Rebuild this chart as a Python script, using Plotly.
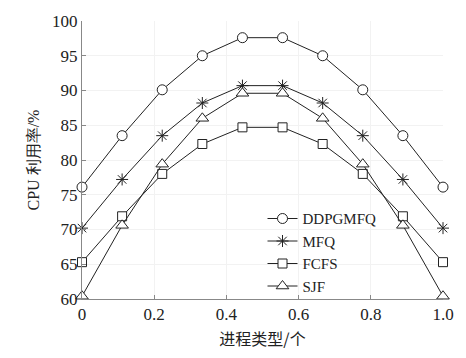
import plotly.graph_objects as go

x_vals = [0, 1/9, 2/9, 3/9, 4/9, 5/9, 6/9, 7/9, 8/9, 1.0]
ddpgmfq = [76.1, 83.5, 90.1, 95.0, 97.6, 97.6, 95.0, 90.1, 83.5, 76.1]
mfq = [70.2, 77.2, 83.5, 88.2, 90.7, 90.7, 88.2, 83.5, 77.2, 70.2]
fcfs = [65.3, 71.9, 78.0, 82.3, 84.7, 84.7, 82.3, 78.0, 71.9, 65.3]
sjf = [60.4, 70.6, 79.4, 86.0, 89.6, 89.6, 86.0, 79.4, 70.6, 60.4]
series_names = ["DDPGMFQ", "MFQ", "FCFS", "SJF"]
x_tickvals = [0, 0.2, 0.4, 0.6, 0.8, 1.0]
x_ticktext = ["0", "0.2", "0.4", "0.6", "0.8", "1.0"]
y_tickvals = [60, 65, 70, 75, 80, 85, 90, 95, 100]

symbols = ["circle", "asterisk-open", "square", "triangle-up"]
sizes = [10, 10, 9, 11]
fills = ["white", "#222222", "white", "white"]
series = [ddpgmfq, mfq, fcfs, sjf]

fig = go.Figure()
for name, ys, sym, sz, fc in zip(series_names, series, symbols, sizes, fills):
    fig.add_trace(go.Scatter(
        x=x_vals, y=ys, name=name, mode="lines+markers",
        line=dict(color="#222222", width=1),
        marker=dict(symbol=sym, size=sz, color=fc,
                    line=dict(color="#222222", width=1)),
        cliponaxis=False,
    ))

serif = "Liberation Serif"
tickfont = dict(family=serif, size=17, color="#222222")
fig.update_layout(
    width=466, height=358,
    margin=dict(l=82, r=16, t=16, b=54),
    paper_bgcolor="white", plot_bgcolor="white",
    font=dict(family=serif, size=17, color="#222222"),
    showlegend=True,
    legend=dict(x=0.50, y=0.348, xanchor="left", yanchor="top",
                bgcolor="rgba(0,0,0,0)",
                font=dict(size=15, family=serif, color="#222222"),
                tracegroupgap=0, itemsizing="trace"),
    xaxis=dict(range=[0, 1], tickvals=x_tickvals, ticktext=x_ticktext,
               tickfont=tickfont,
               showline=True, linecolor="#888888", linewidth=1,
               ticks="inside", ticklen=4, tickcolor="#888888",
               showgrid=True, gridcolor="#f2f2f2", zeroline=False,
               title=dict(text="进程类型/个", standoff=10,
                          font=dict(size=16, family="Noto Sans CJK SC"))),
    yaxis=dict(range=[60, 100], tickvals=y_tickvals,
               tickfont=tickfont,
               showline=True, linecolor="#888888", linewidth=1,
               ticks="inside", ticklen=4, tickcolor="#888888",
               showgrid=True, gridcolor="#f2f2f2", zeroline=False,
               title=dict(text="CPU 利用率/%", standoff=8,
                          font=dict(size=16, family=serif))),
)
fig.write_html("out.html")
